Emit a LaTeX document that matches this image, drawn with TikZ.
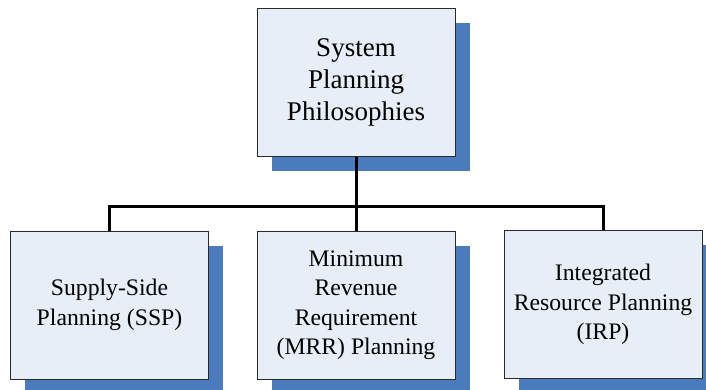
\documentclass[tikz,border=0pt]{standalone}
\usepackage{fontspec}
\setmainfont{Liberation Serif}
\usepackage{tikz}
\usetikzlibrary{positioning, shadows}
\usepackage{xcolor}

\definecolor{boxfill}{HTML}{E8EEF7}
\definecolor{shadowblue}{HTML}{4A7BBD}
\definecolor{boxline}{HTML}{2A2A2A}

\tikzset{
    planbox/.style={draw=boxline, line width=0.9pt, fill=boxfill, rectangle,
        minimum width=198pt, minimum height=148pt, inner sep=0pt, align=center,
        drop shadow={shadow xshift=14.5pt, shadow yshift=-14.5pt, fill=shadowblue, opacity=1}},
    toptext/.style={font=\fontsize{27}{32}\selectfont},
    subtext/.style={font=\fontsize{23.7}{29.5}\selectfont},
    link/.style={draw=black, line width=3pt, line join=miter}
}

\begin{document}
\begin{tikzpicture}[x=1pt, y=-1pt]
    \useasboundingbox (0,0) rectangle (706,389);

    % head box
    \node[planbox, toptext] (phil) at (356,82.5) {System\\Planning\\Philosophies};

    % three planning approaches
    \node[planbox, subtext] (ssp) at (109.5,305) {Supply-Side\\Planning (SSP)};
    \node[planbox, subtext] (mrr) at (356,305) {Minimum\\Revenue\\Requirement\\(MRR) Planning};
    \node[planbox, subtext] (irp) at (603,304.5) {Integrated\\Resource Planning\\(IRP)};

    % bus
    \coordinate (bus) at (356,206.5);
    \draw[link] (ssp.north) |- (bus) -| (irp.north);
    \draw[link] (phil.south) -- (mrr.north);
\end{tikzpicture}
\end{document}
